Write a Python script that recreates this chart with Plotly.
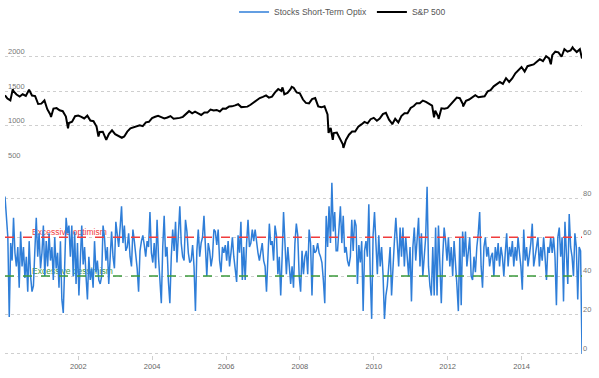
import pandas as pd
import plotly.graph_objects as go

# ---------------- data ----------------
# Stocks Short-Term Optix (about bi-weekly readings, Jan 2000 -> Aug 2015)
optix_2000 = [81, 70, 60, 19, 57, 48, 70, 52, 45, 55, 34, 63, 45, 55, 39, 50, 32, 58, 40, 32, 35, 53, 70, 50, 62, 44]
optix_2001 = [52, 66, 40, 58, 45, 62, 48, 55, 38, 60, 44, 52, 34, 58, 28, 21, 48, 70, 62, 66, 50, 66, 40, 63, 36, 57]
optix_2002 = [30, 54, 66, 46, 55, 40, 28, 50, 38, 44, 34, 58, 42, 48, 38, 36, 40, 66, 60, 48, 55, 36, 52, 63, 50, 44]
optix_2003 = [68, 60, 55, 65, 76, 57, 66, 53, 55, 62, 50, 45, 64, 58, 52, 44, 32, 53, 58, 61, 56, 50, 58, 55, 73, 52]
optix_2004 = [47, 57, 44, 69, 50, 40, 26, 55, 71, 50, 55, 37, 26, 50, 64, 53, 68, 47, 60, 76, 57, 50, 48, 69, 63, 52]
optix_2005 = [47, 48, 56, 45, 22, 53, 64, 50, 57, 60, 71, 50, 40, 57, 53, 45, 50, 64, 63, 56, 64, 48, 42, 55, 52, 56]
optix_2006 = [48, 58, 45, 52, 60, 50, 44, 37, 61, 52, 68, 38, 55, 38, 57, 69, 55, 57, 64, 58, 64, 56, 52, 48, 52, 57]
optix_2007 = [48, 45, 32, 53, 67, 56, 58, 48, 66, 61, 41, 50, 30, 50, 73, 57, 41, 55, 47, 36, 45, 34, 57, 67, 61, 40]
optix_2008 = [32, 53, 41, 50, 53, 41, 64, 57, 30, 56, 52, 53, 57, 52, 50, 47, 38, 26, 71, 55, 76, 57, 88, 63, 73, 53]
optix_2009 = [53, 66, 76, 57, 71, 52, 55, 48, 45, 50, 69, 53, 69, 66, 36, 56, 47, 58, 22, 53, 58, 50, 77, 41, 18, 61]
optix_2010 = [73, 57, 41, 61, 45, 55, 41, 18, 30, 35, 45, 55, 30, 48, 58, 70, 55, 45, 65, 50, 65, 45, 60, 50, 40, 55]
optix_2011 = [27, 55, 65, 48, 58, 70, 45, 62, 40, 52, 60, 86, 45, 35, 30, 55, 30, 65, 30, 66, 50, 26, 50, 65, 58, 48]
optix_2012 = [60, 45, 55, 40, 58, 48, 35, 22, 60, 25, 63, 50, 63, 45, 55, 60, 40, 38, 50, 42, 55, 62, 73, 45, 34, 55]
optix_2013 = [60, 50, 55, 45, 50, 52, 40, 55, 48, 57, 45, 55, 50, 40, 52, 62, 45, 55, 50, 58, 45, 55, 48, 60, 52, 45]
optix_2014 = [33, 64, 48, 55, 45, 50, 57, 67, 45, 50, 55, 60, 45, 55, 48, 60, 50, 38, 55, 52, 60, 52, 60, 50, 25, 60]
optix_2015 = [65, 50, 60, 27, 68, 50, 36, 72, 55, 50, 40, 62, 55, 28, 55, 53, 0]

optix_values = (optix_2000 + optix_2001 + optix_2002 + optix_2003 + optix_2004 + optix_2005
                + optix_2006 + optix_2007 + optix_2008 + optix_2009 + optix_2010 + optix_2011
                + optix_2012 + optix_2013 + optix_2014 + optix_2015)
optix_start = "2000-01-07"
optix_end = "2015-08-21"

# S&P 500 month-end closes, Jan 2000 -> Jul 2015
sp_monthly = [
    1394, 1366, 1499, 1452, 1421, 1455, 1431, 1518, 1437, 1429, 1315, 1320,
    1366, 1240, 1160, 1249, 1256, 1224, 1211, 1134, 1041, 1060, 1139, 1148,
    1130, 1107, 1147, 1077, 1067, 990, 912, 916, 815, 886, 936, 880,
    856, 841, 848, 917, 964, 975, 990, 1008, 996, 1051, 1058, 1112,
    1131, 1145, 1126, 1107, 1121, 1141, 1102, 1104, 1115, 1130, 1174, 1212,
    1181, 1204, 1181, 1157, 1192, 1191, 1234, 1220, 1229, 1207, 1249, 1248,
    1280, 1281, 1295, 1311, 1270, 1270, 1277, 1304, 1336, 1378, 1401, 1418,
    1438, 1407, 1421, 1482, 1531, 1503, 1455, 1474, 1527, 1549, 1481, 1468,
    1379, 1331, 1323, 1386, 1400, 1280, 1267, 1283, 1165, 969, 896, 903,
    826, 735, 798, 873, 919, 919, 987, 1021, 1057, 1036, 1096, 1115,
    1074, 1104, 1169, 1187, 1089, 1031, 1102, 1049, 1141, 1183, 1181, 1258,
    1286, 1327, 1326, 1364, 1345, 1321, 1292, 1219, 1131, 1253, 1247, 1258,
    1312, 1366, 1408, 1398, 1310, 1362, 1379, 1407, 1441, 1412, 1416, 1426,
    1498, 1515, 1569, 1598, 1631, 1606, 1686, 1633, 1682, 1757, 1806, 1848,
    1783, 1859, 1872, 1884, 1924, 1960, 1931, 2003, 1972, 2018, 2068, 2059,
    1995, 2105, 2068, 2086, 2107, 2063, 2104,
]
sp_monthly_start = "2000-01-31"

# S&P 500 weekly closes at notable turning points
sp_extra_dates = ["2000-01-07", "2000-03-24", "2000-09-01", "2001-04-06", "2001-09-21",
                  "2002-07-19", "2002-10-04", "2003-03-07", "2007-07-13", "2007-10-12",
                  "2008-10-10", "2008-11-21", "2009-03-06", "2010-07-02", "2011-08-19",
                  "2011-10-03", "2012-06-01", "2014-10-17", "2015-05-20", "2015-08-21"]
sp_extra_values = [1441, 1527, 1520, 1128, 966,
                   847, 800, 829, 1553, 1561,
                   899, 800, 683, 1022, 1124,
                   1099, 1278, 1887, 2130, 1971]

sp_ticks = [500, 1000, 1500, 2000, 2500]
sp_tick_text = ["500", "1000", "1500", "2000", ""]
optix_ticks = [0, 20, 40, 60, 80]
optimism_level = 60
pessimism_level = 40

# ---------------- build ----------------
optix_dates = pd.date_range(optix_start, optix_end, periods=len(optix_values))

sp = pd.concat([
    pd.Series(sp_monthly, index=pd.date_range(sp_monthly_start, periods=len(sp_monthly), freq="ME")),
    pd.Series(sp_extra_values, index=pd.to_datetime(sp_extra_dates)),
]).sort_index()

FONT = "Liberation Sans, Arial, sans-serif"
BLUE = "#2f7ed8"
RED = "#f03c3c"
GREEN = "#3d9a3d"
GRID = "#cfcfcf"

fig = go.Figure()

# zone labels (drawn under the Optix line)
fig.add_trace(go.Scatter(
    x=[pd.Timestamp("2000-10-01")], y=[optimism_level], mode="text",
    text=["Excessive optimism"], textposition="top right",
    textfont=dict(color=RED, size=8.5, family=FONT), showlegend=False, hoverinfo="skip",
    xaxis="x", yaxis="y"))
fig.add_trace(go.Scatter(
    x=[pd.Timestamp("2000-10-01")], y=[pessimism_level], mode="text",
    text=["Excessive pessimism"], textposition="top right",
    textfont=dict(color=GREEN, size=8.5, family=FONT), showlegend=False, hoverinfo="skip",
    xaxis="x", yaxis="y"))

fig.add_trace(go.Scatter(
    x=optix_dates, y=optix_values, mode="lines", name="Stocks Short-Term Optix",
    line=dict(color=BLUE, width=1.5), xaxis="x", yaxis="y"))
fig.add_trace(go.Scatter(
    x=sp.index, y=sp.values, mode="lines", name="S&P 500",
    line=dict(color="#000000", width=2), xaxis="x", yaxis="y2"))

for lvl, col in [(optimism_level, RED), (pessimism_level, GREEN)]:
    fig.add_shape(type="line", xref="paper", x0=0, x1=1, yref="y", y0=lvl, y1=lvl,
                  line=dict(color=col, width=1.5, dash="dash"))

fig.update_layout(
    width=599, height=378,
    margin=dict(l=5, r=17, t=21, b=23, autoexpand=False),
    paper_bgcolor="white", plot_bgcolor="white",
    font=dict(family=FONT, size=8, color="#666"),
    showlegend=True,
    legend=dict(orientation="h", x=0.585, xanchor="center",
                yref="container", y=0.968, yanchor="middle",
                font=dict(size=8.5, color="#555"), itemwidth=30, bgcolor="rgba(0,0,0,0)"),
    xaxis=dict(
        type="date", anchor="y",
        range=[optix_dates[0], optix_dates[-1]],
        tick0="2002-01-01", dtick="M24", tickformat="%Y",
        showgrid=False, zeroline=False, showline=False,
        ticks="outside", ticklen=4, tickcolor=GRID,
        tickfont=dict(size=7.5, color="#666"),
    ),
    yaxis=dict(
        domain=[0, 0.527], range=[-0.6, 90], side="right", anchor="x",
        tickvals=optix_ticks, ticklabelposition="outside top",
        showgrid=True, gridcolor=GRID, griddash="dot", gridwidth=1,
        zeroline=False, showline=False, ticks="",
        tickfont=dict(size=7.5, color="#777"),
    ),
    yaxis2=dict(
        domain=[0.58, 1], range=[490, 2510], side="left", anchor="x",
        tickvals=sp_ticks, ticktext=sp_tick_text, ticklabelposition="inside top",
        showgrid=True, gridcolor=GRID, griddash="dot", gridwidth=1,
        zeroline=False, showline=False, ticks="",
        tickfont=dict(size=7.5, color="#777"),
    ),
)

fig.write_html(
    "out.html",
    config={"displayModeBar": False},
    post_script="document.body.style.margin='0';document.body.style.overflow='hidden';",
)
